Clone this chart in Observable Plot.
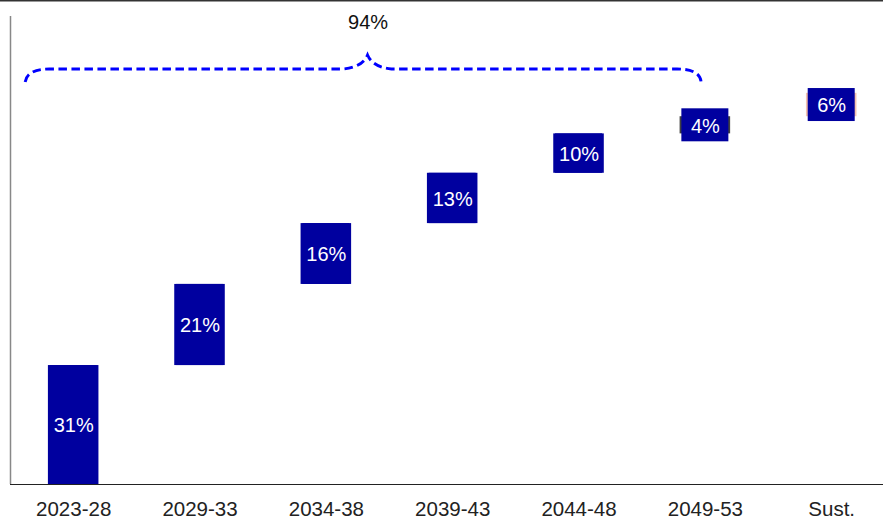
<!DOCTYPE html>
<html>
<head>
<meta charset="utf-8">
<script src="https://cdn.jsdelivr.net/npm/d3@7"></script>
<script src="https://cdn.jsdelivr.net/npm/@observablehq/plot@0.6"></script>
<style>
  html, body { margin: 0; padding: 0; background: #fff; }
  #chart svg { display: block; }
</style>
</head>
<body>
<div id="chart"></div>
<script>
// ---- data ----
const categories = ["2023-28", "2029-33", "2034-38", "2039-43", "2044-48", "2049-53", "Sust."];
const values = [30.5, 20.8, 15.6, 12.9, 10.1, 4.4, 6.0];
const labels = ["31%", "21%", "16%", "13%", "10%", "4%", "6%"];
const barColors = ["#00009f", "#00009f", "#00009f", "#00009f", "#00009f", "#404040", "#f4c1ae"];
const totalLabel = ["94%"];
// brace annotation (index units / percent units)
const braceFrom = [-0.38];
const braceTo = [4.97];
const braceTip = [2.33];
const braceLevels = [103.1, 106.4, 110]; // ends, arms, tip

// ---- derived table ----
let cum = 0;
const rows = categories.map((c, i) => {
  const lo = cum;
  cum += values[i];
  return { i, cat: c, lo, hi: cum, label: labels[i], color: barColors[i] };
});

const BLUE = "#00009f";

const labelBoxes = (index, scales) => {
  const g = d3.create("svg:g");
  for (const d of rows) {
    const cx = scales.x(d.i);
    const yTop = scales.y(d.hi), yBot = scales.y(d.lo);
    const cy = (yTop + yBot) / 2;
    const h = Math.max(yBot - yTop, 33);
    g.append("rect")
      .attr("x", cx - 23.5).attr("width", 47)
      .attr("y", cy - h / 2).attr("height", h)
      .attr("fill", BLUE);
  }
  return g.node();
};

const brace = (index, scales) => {
  const x0 = scales.x(braceFrom[0]), x1 = scales.x(braceTo[0]), xm = scales.x(braceTip[0]);
  const ye = scales.y(braceLevels[0]), yh = scales.y(braceLevels[1]), yt = scales.y(braceLevels[2]);
  const p = d3.path();
  p.moveTo(x0, ye);
  p.quadraticCurveTo(x0 + 2, yh, x0 + 24, yh);
  p.lineTo(xm - 24, yh);
  p.quadraticCurveTo(xm - 5, yh - 2, xm, yt);
  p.quadraticCurveTo(xm + 5, yh - 2, xm + 24, yh);
  p.lineTo(x1 - 24, yh);
  p.quadraticCurveTo(x1 - 1, yh, x1, ye);
  return d3.create("svg:path")
    .attr("d", p.toString())
    .attr("fill", "none")
    .attr("stroke", "#0000ff")
    .attr("stroke-width", 2.9)
    .attr("stroke-dasharray", "8.5,4.5")
    .node();
};

const topBorder = (index, scales, values, dimensions) => {
  return d3.create("svg:line")
    .attr("x1", 0).attr("x2", dimensions.width)
    .attr("y1", 0.8).attr("y2", 0.8)
    .attr("stroke", "#333").attr("stroke-width", 1.6)
    .node();
};

const chart = Plot.plot({
  width: 883,
  height: 519,
  marginTop: 16,
  marginBottom: 35,
  marginLeft: 10,
  marginRight: 0,
  style: { fontFamily: "'Liberation Sans', Arial, sans-serif", background: "#fff" },
  x: { domain: [-0.5, 6.41], range: [10, 883], axis: null },
  y: { domain: [0, 120], axis: null },
  color: { type: "identity" },
  marks: [
    Plot.rect(rows, { x1: d => d.i - 0.2, x2: d => d.i + 0.2, y1: "lo", y2: "hi", fill: "color" }),
    labelBoxes,
    Plot.text(rows, { x: "i", y: d => (d.lo + d.hi) / 2, text: "label", fill: "white", fontSize: 20, dy: 1 }),
    brace,
    Plot.text(totalLabel, { x: braceTip, y: [braceLevels[2]], text: d => d, fill: "#111", fontSize: 20, dy: -33 }),
    Plot.ruleX([-0.5], { stroke: "#888", strokeWidth: 1.5 }),
    Plot.ruleY([0], { stroke: "#222", strokeWidth: 1.2 }),
    Plot.text(rows, { x: "i", y: () => 0, text: "cat", fill: "#222", fontSize: 20.5, dy: 24.5 }),
    topBorder
  ]
});
document.getElementById("chart").appendChild(chart);
</script>
</body>
</html>
